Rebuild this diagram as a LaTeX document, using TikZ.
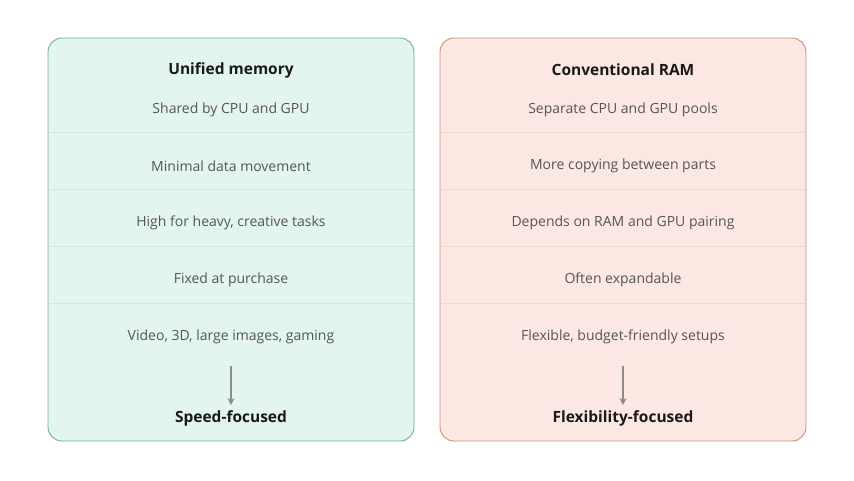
\documentclass[tikz,border=0pt]{standalone}
\usepackage{fontspec}
\setmainfont{Open Sans}
\usetikzlibrary{arrows.meta}
\definecolor{uniFill}{HTML}{E2F5EE}
\definecolor{uniLine}{HTML}{72AD90}
\definecolor{uniSep}{HTML}{CFE8DD}
\definecolor{ramFill}{HTML}{FBE8E3}
\definecolor{ramLine}{HTML}{C98B7C}
\definecolor{ramSep}{HTML}{F0D6CF}
\definecolor{txt}{HTML}{555555}
\begin{document}
\begin{tikzpicture}[
    x=1pt, y=-1pt,
    panel/.style={rounded corners=14pt, line width=0.9pt},
    head/.style={font=\fontsize{15.5}{18}\selectfont\bfseries, text=black!90},
    row/.style={font=\fontsize{14}{16}\selectfont, text=txt},
    arr/.style={-{Stealth[length=7pt,width=7pt]}, line width=1.2pt, draw=gray!90}
  ]
    \useasboundingbox (0,0) rectangle (854,480);
    % left panel
    \draw[panel, fill=uniFill, draw=uniLine] (48,38) rectangle (414,441);
    \foreach \yy in {132,189,246,303}
      \draw[uniSep, line width=0.8pt] (49,\yy) -- (413,\yy);
    \node[head] (uniT) at (231,70) {Unified memory};
    \node[row] (uniA) at (231,110) {Shared by CPU and GPU};
    \node[row] (uniB) at (231,166) {Minimal data movement};
    \node[row] (uniC) at (231,223) {High for heavy, creative tasks};
    \node[row] (uniD) at (231,280) {Fixed at purchase};
    \node[row] (uniE) at (231,337) {Video, 3D, large images, gaming};
    \node[head] (uniR) at (231,418) {Speed-focused};
    \coordinate (uniS) at (231,366);
    \coordinate (uniX) at (231,405);
    \draw[arr] (uniS) -- (uniX);
    % right panel
    \draw[panel, fill=ramFill, draw=ramLine] (440,38) rectangle (806,441);
    \foreach \yy in {132,189,246,303}
      \draw[ramSep, line width=0.8pt] (441,\yy) -- (805,\yy);
    \node[head] (ramT) at (623,70) {Conventional RAM};
    \node[row] (ramA) at (623,110) {Separate CPU and GPU pools};
    \node[row] (ramB) at (623,166) {More copying between parts};
    \node[row] (ramC) at (623,223) {Depends on RAM and GPU pairing};
    \node[row] (ramD) at (623,280) {Often expandable};
    \node[row] (ramE) at (623,337) {Flexible, budget-friendly setups};
    \node[head] (ramR) at (623,418) {Flexibility-focused};
    \coordinate (ramS) at (623,366);
    \coordinate (ramX) at (623,405);
    \draw[arr] (ramS) -- (ramX);
  \end{tikzpicture}
\end{document}
